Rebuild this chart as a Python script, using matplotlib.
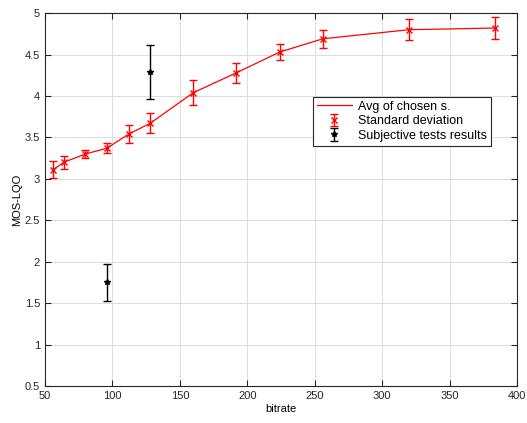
import matplotlib
matplotlib.use("Agg")
import matplotlib.pyplot as plt

bitrate = [56, 64, 80, 96, 112, 128, 160, 192, 224, 256, 320, 384]
mos_avg = [3.11, 3.20, 3.30, 3.37, 3.54, 3.67, 4.04, 4.28, 4.53, 4.69, 4.80, 4.82]
mos_std = [0.10, 0.08, 0.05, 0.06, 0.11, 0.12, 0.15, 0.12, 0.10, 0.11, 0.13, 0.13]

subj_bitrate = [96, 128]
subj_mos = [1.75, 4.29]
subj_err = [0.22, 0.33]

plt.rcParams['font.family'] = ['Liberation Sans', 'DejaVu Sans']
fig = plt.figure(figsize=(5.27, 4.23), dpi=100)
ax = fig.add_axes([0.0854, 0.0875, 0.8956, 0.8815])

ax.plot(bitrate, mos_avg, 'r-', lw=0.9, label='Avg of chosen s.')
ax.errorbar(bitrate, mos_avg, yerr=mos_std, fmt='rx', ms=4, mew=1, elinewidth=1,
            capsize=3, capthick=1, label='Standard deviation')
ax.errorbar(subj_bitrate, subj_mos, yerr=subj_err, fmt='k*', ms=4, elinewidth=1,
            capsize=3, capthick=1, label='Subjective tests results')

ax.set_xlim(50, 400)
ax.set_ylim(0.5, 5)
ax.set_xticks(range(50, 401, 50))
ax.set_yticks([0.5, 1, 1.5, 2, 2.5, 3, 3.5, 4, 4.5, 5])
ax.set_yticklabels(['0.5', '1', '1.5', '2', '2.5', '3', '3.5', '4', '4.5', '5'])
ax.grid(True, color='#dddddd', lw=0.7)
ax.set_axisbelow(True)
ax.tick_params(direction='in', top=True, right=True, labelsize=8, length=4, colors='#262626')
for s in ax.spines.values():
    s.set_color('#262626')
    s.set_linewidth(0.8)
ax.set_xlabel('bitrate', fontsize=8, labelpad=2)
ax.set_ylabel('MOS-LQO', fontsize=8, labelpad=2)

leg = ax.legend(loc='upper left', bbox_to_anchor=(0.568, 0.775), fontsize=9,
                frameon=True, fancybox=False, edgecolor='#262626', framealpha=1,
                handlelength=2.8, borderpad=0.3, labelspacing=0.2, handletextpad=0.5,
                borderaxespad=0)
leg.get_frame().set_linewidth(0.8)

fig.savefig('out.png', dpi=100)
